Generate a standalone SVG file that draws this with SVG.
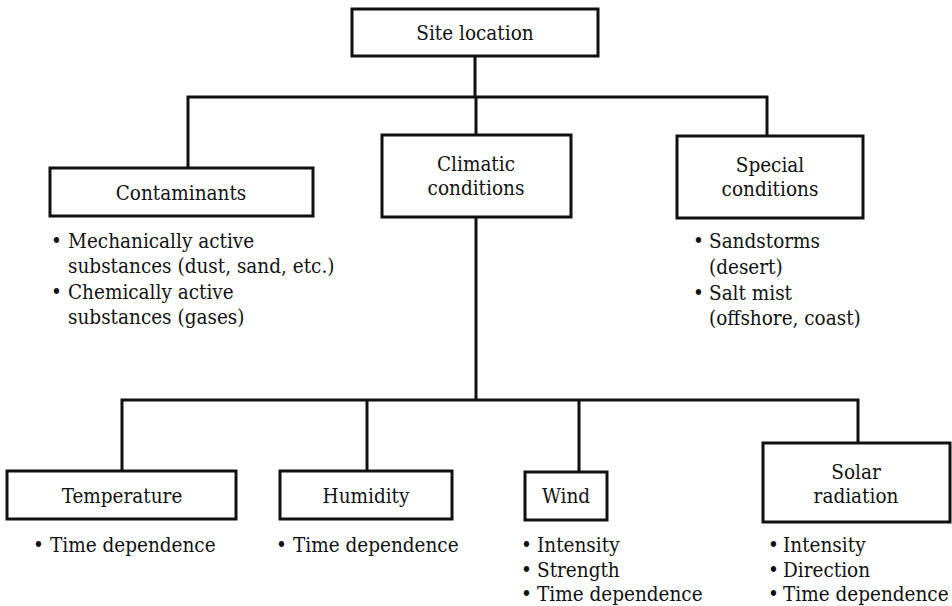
<svg xmlns="http://www.w3.org/2000/svg" width="952" height="606" viewBox="0 0 952 606">
  <style>
    .box { fill: #ffffff; stroke: #111111; stroke-width: 3; }
    .wire { fill: none; stroke: #111111; stroke-width: 3; stroke-linecap: square; }
    .c { text-anchor: middle; }
  </style>
  <rect width="952" height="606" fill="#ffffff"/>

  <!-- connectors -->
  <g id="connectors">
    <path class="wire" d="M475 56 V97 M188 97 H767 M188 97 V168 M476 97 V135 M767 97 V136"/>
    <path class="wire" d="M476 217 V400 M122 400 H858 M122 400 V471 M367 400 V471 M579 400 V472 M858 400 V443"/>
  </g>

  <g font-family="'DejaVu Serif Condensed', 'DejaVu Serif', serif" font-stretch="condensed" font-size="20.5" fill="#111111">
  <g id="site-location">
    <rect class="box" x="352" y="9" width="246" height="47"/>
    <text class="c" x="475" y="40">Site location</text>
  </g>

  <g id="contaminants">
    <rect class="box" x="50" y="168" width="263" height="48"/>
    <text class="c" x="181" y="200">Contaminants</text>
    <text><tspan x="51" y="248">•</tspan><tspan x="68">Mechanically active</tspan></text>
    <text x="68" y="273">substances (dust, sand, etc.)</text>
    <text><tspan x="51" y="299">•</tspan><tspan x="68">Chemically active</tspan></text>
    <text x="68" y="324">substances (gases)</text>
  </g>

  <g id="climatic-conditions">
    <rect class="box" x="382" y="135" width="189" height="82"/>
    <text class="c" x="476" y="171">Climatic</text>
    <text class="c" x="476" y="195">conditions</text>
  </g>

  <g id="special-conditions">
    <rect class="box" x="677" y="136" width="186" height="82"/>
    <text class="c" x="770" y="172">Special</text>
    <text class="c" x="770" y="196">conditions</text>
    <text><tspan x="693" y="248">•</tspan><tspan x="709">Sandstorms</tspan></text>
    <text x="709" y="274">(desert)</text>
    <text><tspan x="693" y="300">•</tspan><tspan x="709">Salt mist</tspan></text>
    <text x="709" y="325">(offshore, coast)</text>
  </g>

  <g id="temperature">
    <rect class="box" x="7" y="471" width="229" height="48"/>
    <text class="c" x="122" y="503">Temperature</text>
    <text><tspan x="33" y="552">•</tspan><tspan x="50">Time dependence</tspan></text>
  </g>

  <g id="humidity">
    <rect class="box" x="280" y="471" width="172" height="48"/>
    <text class="c" x="366" y="503">Humidity</text>
    <text><tspan x="276" y="552">•</tspan><tspan x="293">Time dependence</tspan></text>
  </g>

  <g id="wind">
    <rect class="box" x="525" y="472" width="82" height="48"/>
    <text class="c" x="566" y="503">Wind</text>
    <text><tspan x="521" y="552">•</tspan><tspan x="537">Intensity</tspan></text>
    <text><tspan x="521" y="577">•</tspan><tspan x="537">Strength</tspan></text>
    <text><tspan x="521" y="601">•</tspan><tspan x="537">Time dependence</tspan></text>
  </g>

  <g id="solar-radiation">
    <rect class="box" x="763" y="443" width="187" height="79"/>
    <text class="c" x="856" y="479">Solar</text>
    <text class="c" x="856" y="503">radiation</text>
    <text><tspan x="768" y="552">•</tspan><tspan x="783">Intensity</tspan></text>
    <text><tspan x="768" y="577">•</tspan><tspan x="783">Direction</tspan></text>
    <text><tspan x="768" y="601">•</tspan><tspan x="783">Time dependence</tspan></text>
  </g>
  </g>
</svg>
